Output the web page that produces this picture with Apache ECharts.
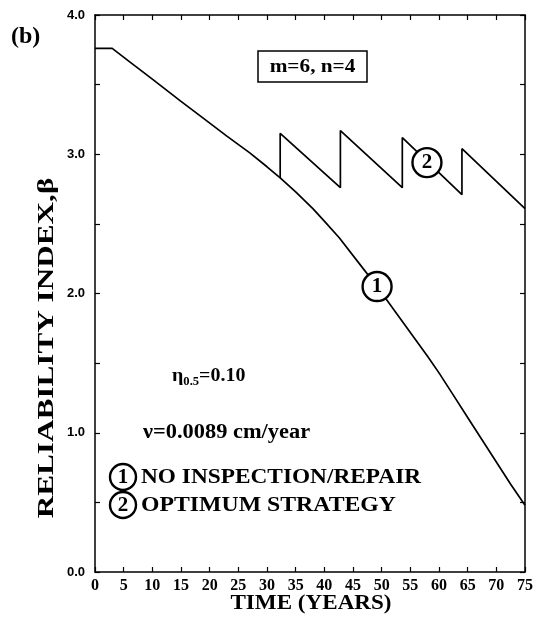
<!DOCTYPE html>
<html>
<head>
<meta charset="utf-8">
<script src="https://cdn.jsdelivr.net/npm/echarts@6/dist/echarts.min.js"></script>
<style>
html,body{margin:0;padding:0;background:#fff;}
#c{width:536px;height:617px;}
</style>
</head>
<body>
<div id="c"></div>
<script>
// Curve 1: no inspection/repair
const time1 = [0, 3, 6, 10, 15, 19.5, 23, 27, 30, 32.3, 35, 38, 40, 42.6, 46, 49.2, 52, 55, 58, 60, 62.5, 65, 67.5, 70, 72.5, 75];
const beta1 = [3.76, 3.76, 3.665, 3.54, 3.38, 3.24, 3.13, 3.01, 2.91, 2.83, 2.73, 2.61, 2.52, 2.40, 2.22, 2.05, 1.89, 1.72, 1.55, 1.43, 1.27, 1.11, 0.95, 0.79, 0.63, 0.48];
// Curve 2: optimum strategy (repairs at jumps)
const time2 = [32.3, 32.3, 42.8, 42.8, 53.6, 53.6, 64.0, 64.0, 75];
const beta2 = [2.83, 3.15, 2.76, 3.17, 2.76, 3.12, 2.71, 3.04, 2.61];
// Curve labels
const labelTime = [49.2, 57.9];
const labelBeta = [2.05, 2.94];
const labelText = ['1', '2'];
// Axis ticks
const xTicks = [0, 5, 10, 15, 20, 25, 30, 35, 40, 45, 50, 55, 60, 65, 70, 75];
const yTicks = [0.0, 1.0, 2.0, 3.0, 4.0];

const serif = '"Liberation Serif", "DejaVu Serif", serif';
const sans = '"Liberation Sans", Arial, sans-serif';

const chart = echarts.init(document.getElementById('c'), null, {renderer: 'canvas'});

const lineStyleAxis = {color: '#000', width: 1.5};
const tickIn = {show: true, inside: true, length: 5, lineStyle: {color: '#000', width: 1.2}};

chart.setOption({
  backgroundColor: '#fff',
  animation: false,
  grid: {left: 95, right: 10, top: 15, bottom: 45},
  xAxis: [{
    type: 'value', min: xTicks[0], max: xTicks[xTicks.length - 1], interval: 5,
    axisLine: {show: true, onZero: false, lineStyle: lineStyleAxis},
    axisTick: tickIn,
    splitLine: {show: false},
    axisLabel: {margin: 6, color: '#000', fontFamily: serif, fontWeight: 'bold', fontSize: 16}
  }, {
    type: 'value', position: 'top', min: xTicks[0], max: xTicks[xTicks.length - 1], interval: 5,
    axisLine: {show: true, onZero: false, lineStyle: lineStyleAxis},
    axisTick: tickIn, axisLabel: {show: false}, splitLine: {show: false}
  }],
  yAxis: [{
    type: 'value', min: yTicks[0], max: yTicks[yTicks.length - 1], interval: 0.5,
    axisLine: {show: true, onZero: false, lineStyle: lineStyleAxis},
    axisTick: tickIn,
    splitLine: {show: false},
    axisLabel: {
      margin: 10, color: '#000', fontFamily: sans, fontWeight: 'bold', fontSize: 13,
      formatter: v => (yTicks.indexOf(v) >= 0 ? v.toFixed(1) : '')
    }
  }, {
    type: 'value', position: 'right', min: yTicks[0], max: yTicks[yTicks.length - 1], interval: 0.5,
    axisLine: {show: true, onZero: false, lineStyle: lineStyleAxis},
    axisTick: tickIn, axisLabel: {show: false}, splitLine: {show: false}
  }],
  series: [{
    type: 'line', name: 'NO INSPECTION/REPAIR', xAxisIndex: 0, yAxisIndex: 0,
    data: time1.map((t, i) => [t, beta1[i]]),
    showSymbol: false, smooth: false,
    lineStyle: {color: '#000', width: 1.7}, z: 2
  }, {
    type: 'line', name: 'OPTIMUM STRATEGY', xAxisIndex: 0, yAxisIndex: 0,
    data: time2.map((t, i) => [t, beta2[i]]),
    showSymbol: false, smooth: false,
    lineStyle: {color: '#000', width: 1.7}, z: 2
  }, {
    type: 'scatter', xAxisIndex: 0, yAxisIndex: 0,
    data: labelTime.map((t, i) => ({value: [t, labelBeta[i]], name: labelText[i]})),
    symbol: 'circle', symbolSize: 29,
    itemStyle: {color: '#fff', borderColor: '#000', borderWidth: 2.4, opacity: 1},
    label: {show: true, position: 'inside', formatter: p => p.name,
      color: '#000', fontFamily: serif, fontWeight: 'bold', fontSize: 21},
    emphasis: {disabled: true},
    z: 5
  }],
  graphic: [
    {type: 'text', left: 11, top: 25, style: {text: '(b)', fill: '#000', font: 'bold 24px ' + serif}},
    // axis titles
    {type: 'text', x: 47, y: 348, rotation: Math.PI / 2, scaleX: 1.3, z: 11,
     style: {text: 'RELIABILITY INDEX,β', fill: '#000', font: 'bold 24px ' + serif, align: 'center', verticalAlign: 'middle'}},
    {type: 'text', x: 311, y: 603, scaleX: 1.05, z: 11,
     style: {text: 'TIME (YEARS)', fill: '#000', font: 'bold 22px ' + serif, align: 'center', verticalAlign: 'middle'}},
    // parameter box
    {type: 'rect', shape: {x: 258, y: 51, width: 109, height: 31},
     style: {fill: '#fff', stroke: '#000', lineWidth: 1.5}, z: 10},
    {type: 'text', x: 312.5, y: 67, scaleX: 1.12, z: 11,
     style: {text: 'm=6, n=4', fill: '#000', font: 'bold 19px ' + serif, align: 'center', verticalAlign: 'middle'}},
    {type: 'text', x: 172, y: 376, scaleX: 1.05, z: 11,
     style: {text: '{a|η}{s|0.5}{a|=0.10}', verticalAlign: 'middle',
       rich: {
         a: {fill: '#000', font: 'bold 19px ' + serif, verticalAlign: 'middle'},
         s: {fill: '#000', font: 'bold 12px ' + serif, padding: [11, 0, 0, 0], verticalAlign: 'middle'}
       }}},
    {type: 'text', x: 143, y: 433, scaleX: 1.12, z: 11,
     style: {text: 'ν=0.0089 cm/year', fill: '#000', font: 'bold 20px ' + serif, verticalAlign: 'middle'}},
    // legend
    {type: 'circle', shape: {cx: 123, cy: 477, r: 13}, style: {fill: '#fff', stroke: '#000', lineWidth: 2.4}, z: 11},
    {type: 'text', x: 123, y: 478, z: 12,
     style: {text: '1', fill: '#000', font: 'bold 21px ' + serif, align: 'center', verticalAlign: 'middle'}},
    {type: 'text', x: 141, y: 477, scaleX: 1.06, z: 11,
     style: {text: 'NO INSPECTION/REPAIR', fill: '#000', font: 'bold 22px ' + serif, verticalAlign: 'middle'}},
    {type: 'circle', shape: {cx: 123, cy: 505, r: 13}, style: {fill: '#fff', stroke: '#000', lineWidth: 2.4}, z: 11},
    {type: 'text', x: 123, y: 506, z: 12,
     style: {text: '2', fill: '#000', font: 'bold 21px ' + serif, align: 'center', verticalAlign: 'middle'}},
    {type: 'text', x: 141, y: 505, scaleX: 1.08, z: 11,
     style: {text: 'OPTIMUM STRATEGY', fill: '#000', font: 'bold 22px ' + serif, verticalAlign: 'middle'}}
  ]
});
</script>
</body>
</html>
